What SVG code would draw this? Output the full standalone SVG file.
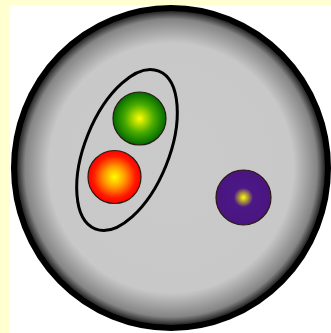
<svg xmlns="http://www.w3.org/2000/svg" width="331" height="333" viewBox="0 0 331 333">
  <defs>
    <radialGradient id="gBig" cx="50%" cy="50%" r="50%">
      <stop offset="0" stop-color="#cacaca"/>
      <stop offset="0.78" stop-color="#c8c8c8"/>
      <stop offset="0.93" stop-color="#858585"/>
      <stop offset="1" stop-color="#000000"/>
    </radialGradient>
    <radialGradient id="gGreen" cx="50%" cy="50%" r="50%">
      <stop offset="0" stop-color="#ffff00"/>
      <stop offset="0.55" stop-color="#48aa00"/>
      <stop offset="1" stop-color="#006a00"/>
    </radialGradient>
    <radialGradient id="gRed" cx="50%" cy="50%" r="50%">
      <stop offset="0" stop-color="#ffff00"/>
      <stop offset="0.4" stop-color="#ff9a00"/>
      <stop offset="0.8" stop-color="#ff1800"/>
      <stop offset="1" stop-color="#ff0000"/>
    </radialGradient>
    <radialGradient id="gPurple" cx="50%" cy="50%" r="50%">
      <stop offset="0" stop-color="#ffff00"/>
      <stop offset="0.35" stop-color="#4b1886"/>
      <stop offset="1" stop-color="#4a1580"/>
    </radialGradient>
  </defs>
  <style>
    .ball { stroke: #2a1a10; stroke-width: 1.2; }
  </style>
  <rect x="0" y="0" width="331" height="333" fill="#ffffd0"/>
  <rect x="10" y="5" width="321" height="328" fill="#ffffff"/>
  <g id="container">
    <ellipse cx="171" cy="168" rx="157" ry="160" fill="url(#gBig)" stroke="#000" stroke-width="6"/>
  </g>
  <g id="connectors"></g>
  <g id="group">
    <ellipse cx="127" cy="150" rx="42" ry="85" transform="rotate(22 127 150)" fill="none" stroke="#000" stroke-width="3"/>
  </g>
  <g id="green">
    <circle class="ball" cx="139.5" cy="118.5" r="26.5" fill="url(#gGreen)"/>
  </g>
  <g id="red">
    <circle class="ball" cx="114.5" cy="177" r="26.5" fill="url(#gRed)"/>
  </g>
  <g id="purple">
    <circle class="ball" cx="243.5" cy="197.5" r="27.5" fill="url(#gPurple)"/>
  </g>
</svg>
